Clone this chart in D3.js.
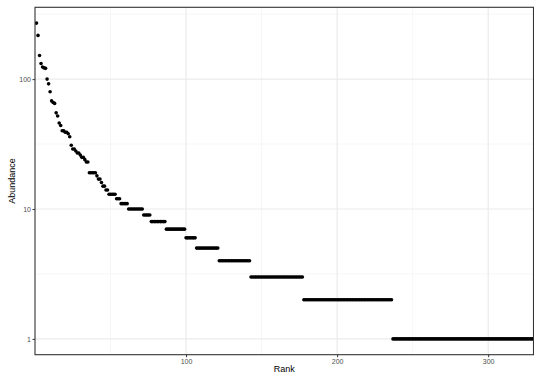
<html>
	<head>
		<meta content="text/html;charset=utf-8" http-equiv="Content-Type">
		<style>
			body { margin: 0; background: #ffffff; }
			text { font-family: "Liberation Sans", Arial, sans-serif; }
		</style>
	</head>
	<body>
		<script src="https://cdn.jsdelivr.net/npm/d3@7"></script>
		<script>
			// abundance of the most common species, rank 1 .. 48
			var headAbundance = [270, 217, 152, 132, 124, 122, 121, 100, 92, 80,
				68, 66, 65, 55, 52, 46, 44, 40, 40, 39,
				39, 38, 36, 31, 29, 29, 28, 27, 27, 26,
				25, 25, 24, 23, 23, 19, 19, 19, 19, 19,
				18, 17, 17, 16, 15, 15, 14, 14];
			// after that the ranks come in runs of equal abundance
			var tailLevels = [13, 12, 11, 10, 9, 8, 7, 6, 5, 4, 3, 2, 1];
			var tailCounts = [5, 3, 5, 10, 5, 10, 13, 7, 15, 21, 35, 59, 94];
			var xTicks = [100, 200, 300];
			var xMinor = [50, 150, 250];
			var yTicks = [1, 10, 100];

			var data = [];
			for(var i = 0; i < headAbundance.length; i++)
				data.push({rank: data.length + 1, abundance: headAbundance[i]});
			for(var j = 0; j < tailLevels.length; j++)
				for(var k = 0; k < tailCounts[j]; k++)
					data.push({rank: data.length + 1, abundance: tailLevels[j]});

			var W = 534, H = 375;
			var pl = 35, pr = 533.5, pt = 7.3, pb = 354.7;

			var svg = d3.select('body').append('svg')
				.attr('width', W)
				.attr('height', H);
			svg.append('rect').attr('width', W).attr('height', H).attr('fill', '#ffffff');

			var x = d3.scaleLinear()
				.domain([0, data.length])
				.range([pl, pr]);

			// log axis with ggplot style 5% expansion
			var lmax = Math.log10(d3.max(data, function(d) { return d.abundance; }));
			var lmin = Math.log10(d3.min(data, function(d) { return d.abundance; }));
			var pad = (lmax - lmin) * 0.05;
			var y = d3.scaleLog()
				.domain([Math.pow(10, lmin - pad), Math.pow(10, lmax + pad)])
				.range([pb, pt]);

			var yMinor = [Math.pow(10, 0.5), Math.pow(10, 1.5), Math.pow(10, 2.5)];

			var grid = svg.append('g');
			grid.selectAll('.ymin').data(yMinor).enter().append('line')
				.attr('x1', pl).attr('x2', pr)
				.attr('y1', function(d) { return y(d); })
				.attr('y2', function(d) { return y(d); })
				.attr('stroke', '#F2F2F2').attr('stroke-width', 0.7);
			grid.selectAll('.xmin').data(xMinor).enter().append('line')
				.attr('y1', pt).attr('y2', pb)
				.attr('x1', function(d) { return x(d); })
				.attr('x2', function(d) { return x(d); })
				.attr('stroke', '#F2F2F2').attr('stroke-width', 0.7);
			grid.selectAll('.ymaj').data(yTicks).enter().append('line')
				.attr('x1', pl).attr('x2', pr)
				.attr('y1', function(d) { return y(d); })
				.attr('y2', function(d) { return y(d); })
				.attr('stroke', '#EBEBEB').attr('stroke-width', 1.2);
			grid.selectAll('.xmaj').data(xTicks).enter().append('line')
				.attr('y1', pt).attr('y2', pb)
				.attr('x1', function(d) { return x(d); })
				.attr('x2', function(d) { return x(d); })
				.attr('stroke', '#EBEBEB').attr('stroke-width', 1.2);

			svg.append('clipPath').attr('id', 'panel')
				.append('rect')
				.attr('x', pl).attr('y', pt)
				.attr('width', pr - pl).attr('height', pb - pt);

			svg.append('g').attr('clip-path', 'url(#panel)')
				.selectAll('circle')
				.data(data)
				.enter().append('circle')
				.attr('cx', function(d) { return x(d.rank); })
				.attr('cy', function(d) { return y(d.abundance); })
				.attr('r', 1.8)
				.attr('fill', '#000000');

			svg.append('rect')
				.attr('x', pl).attr('y', pt)
				.attr('width', pr - pl).attr('height', pb - pt)
				.attr('fill', 'none')
				.attr('stroke', '#333333')
				.attr('stroke-width', 1.1);

			var xAxis = svg.append('g')
				.attr('transform', 'translate(0,' + pb + ')')
				.call(d3.axisBottom(x).tickValues(xTicks).tickSize(2.5).tickPadding(1.5).tickFormat(d3.format('d')));
			var yAxis = svg.append('g')
				.attr('transform', 'translate(' + pl + ',0)')
				.call(d3.axisLeft(y).tickValues(yTicks).tickSize(2.5).tickPadding(1.5).tickFormat(d3.format('d')));
			[xAxis, yAxis].forEach(function(a) {
				a.select('.domain').remove();
				a.selectAll('line').attr('stroke', '#333333').attr('stroke-width', 1);
				a.selectAll('text')
					.attr('fill', '#4D4D4D')
					.style('font-size', '7px')
					.style('font-family', '"Liberation Sans", Arial, sans-serif');
			});

			svg.append('text')
				.attr('x', (pl + pr) / 2)
				.attr('y', 372)
				.attr('text-anchor', 'middle')
				.attr('fill', '#000000')
				.style('font-size', '9px')
				.text('Rank');
			svg.append('text')
				.attr('transform', 'translate(15,' + ((pt + pb) / 2) + ') rotate(-90)')
				.attr('text-anchor', 'middle')
				.attr('fill', '#000000')
				.style('font-size', '9px')
				.text('Abundance');
		</script>
	</body>
</html>
